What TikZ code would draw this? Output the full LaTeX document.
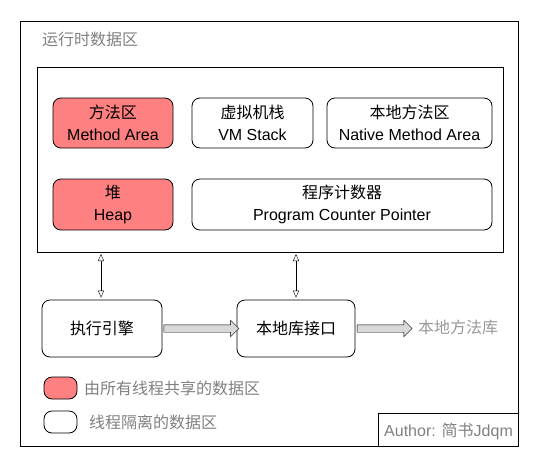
\documentclass[tikz,border=0pt]{standalone}
\usepackage{fontspec}
\setmainfont{Liberation Sans}
\newfontfamily\cjk{Noto Sans CJK SC}
\usetikzlibrary{arrows.meta,shapes.arrows}
\definecolor{shared}{HTML}{FF8080}
\definecolor{txtgray}{HTML}{808080}
\tikzset{
  area/.style={draw=black,line width=0.8pt,rounded corners=8pt,align=center,inner sep=0pt,
    font=\fontsize{16}{22}\selectfont},
  sharedarea/.style={area,fill=shared},
  link/.style={{Triangle[open,length=7pt,width=6pt]}-{Triangle[open,length=7pt,width=6pt]},
    shorten <=2pt,shorten >=2pt},
  fatarrow/.style={single arrow,draw=black,fill=gray!30,inner xsep=0pt,inner ysep=3.5pt,
    single arrow head extend=4.5pt,single arrow head indent=0pt},
  note/.style={text=txtgray,font=\fontsize{16}{20}\selectfont,inner sep=0pt}
}
\begin{document}
\begin{tikzpicture}[x=1pt,y=-1pt]
  \useasboundingbox (0,0) rectangle (539,467);
  % runtime data area
  \draw[line width=0.8pt] (20,21) rectangle (518,446);
  \node[note,anchor=west] (title) at (42,39) {\cjk 运行时数据区};
  \draw[line width=0.8pt] (37,67) coordinate (innernw) rectangle (503,252) coordinate (innerse);
  \node[sharedarea,minimum width=120pt,minimum height=50pt] (ma)   at (113,123)   {{\cjk 方法区}\\Method Area};
  \node[area,minimum width=121pt,minimum height=50pt]       (vms)  at (252.5,123) {{\cjk 虚拟机栈}\\VM Stack};
  \node[area,minimum width=165pt,minimum height=50pt]       (nma)  at (409.5,123) {{\cjk 本地方法区}\\Native Method Area};
  \node[sharedarea,minimum width=120pt,minimum height=51pt] (heap) at (113,204.5) {{\cjk 堆}\\Heap};
  \node[area,minimum width=300pt,minimum height=51pt]       (pc)   at (342,204.5) {{\cjk 程序计数器}\\Program Counter Pointer};
  % engine and native interface
  \node[area,minimum width=120pt,minimum height=57pt] (ee) at (102,328.5) {\cjk 执行引擎};
  \node[area,minimum width=118pt,minimum height=57pt] (ni) at (296,328.5) {\cjk 本地库接口};
  \node[note,text=gray!80,anchor=west] (nml) at (418,327) {\cjk 本地方法库};
  \draw[link] (ee.north -| 101,0) -- (innerse -| 101,0);
  \draw[link] (ni.north) -- (innerse -| ni.north);
  \path (ee.east) -- (ni.west) node[fatarrow,midway,minimum height=75pt] {};
  \path (ni.east) -- (410,328.5) node[fatarrow,midway,minimum height=55pt] {};
  % legend
  \node[sharedarea,minimum width=33pt,minimum height=22pt] (lgshared) at (60.5,388) {};
  \node[note,anchor=west] at (84,388) {\cjk 由所有线程共享的数据区};
  \node[area,minimum width=33pt,minimum height=22pt] (lgprivate) at (60.5,422) {};
  \node[note,anchor=west] at (89,422) {\cjk 线程隔离的数据区};
  % author
  \draw[line width=0.8pt] (378,413) rectangle (518,446);
  \node[note,anchor=west] (author) at (384,431) {Author: {\cjk 简书}Jdqm};
\end{tikzpicture}
\end{document}
